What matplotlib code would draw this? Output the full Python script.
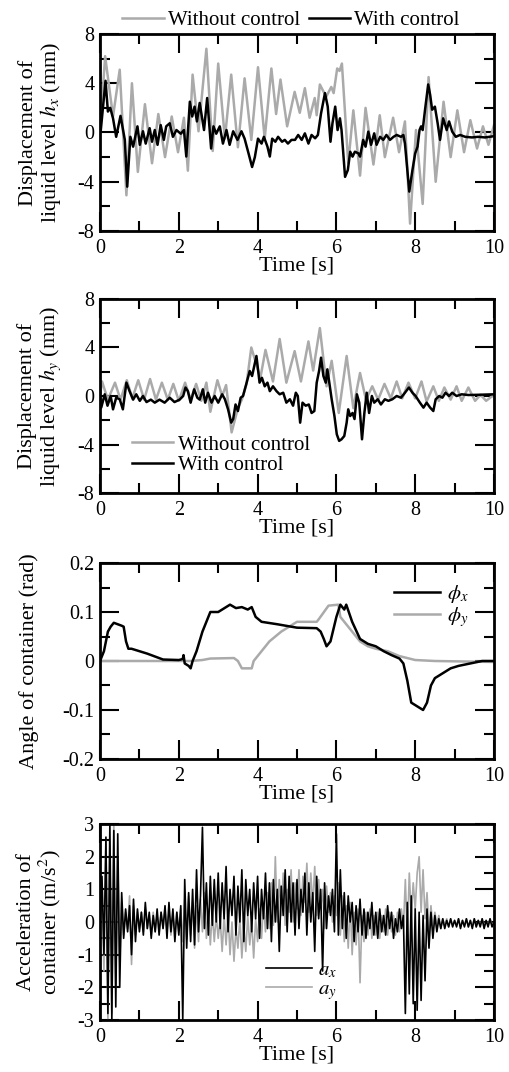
import numpy as np
import matplotlib
matplotlib.use("Agg")
import matplotlib.pyplot as plt
from matplotlib.ticker import MultipleLocator

plt.rcParams['font.family'] = ['Liberation Serif', 'DejaVu Serif']
plt.rcParams['mathtext.fontset'] = 'stix'
plt.rcParams['axes.unicode_minus'] = False
plt.rcParams['lines.solid_joinstyle'] = 'round'

GRAY = '#aaaaaa'

# ---- panel 1: h_x (mm) ----
hx_off_t = [0, 0.13, 0.33, 0.5, 0.67, 0.81, 0.96, 1.14, 1.32, 1.48, 1.65, 1.82, 1.98, 2.13, 2.23,
            2.35, 2.5, 2.7, 2.86, 3.0, 3.17, 3.33, 3.5, 3.67, 3.84, 4.01, 4.18, 4.35, 4.47, 4.58,
            4.75, 4.94, 5.07, 5.2, 5.32, 5.45, 5.5, 5.58, 5.74, 5.87, 5.93, 6.02, 6.08, 6.14, 6.3,
            6.43, 6.6, 6.74, 6.94, 7.1, 7.23, 7.44, 7.59, 7.74, 7.87, 8.02, 8.19, 8.34, 8.52, 8.72,
            8.9, 9.07, 9.24, 9.4, 9.57, 9.72, 9.86, 10.0]
hx_off_v = [0, 6.2, 1.3, 5.1, -5.1, 4.0, -3.2, 2.3, -2.5, 1.5, -2.0, 1.3, -1.6, 1.2, -3.1,
            4.7, 0.1, 6.8, -1.5, 5.6, -0.5, 4.7, -1.2, 4.4, -0.6, 5.3, -0.5, 5.2, 1.5, 4.3,
            0.5, 3.3, 1.6, 3.6, 1.2, 2.8, 1.4, 3.9, 2.9, 3.7, 3.2, 5.2, 5.0, 5.6, -2.5,
            1.8, -3.5, 2.0, -2.6, 1.4, -2.0, 1.2, -1.6, 0.9, -7.4, 0.2, -5.8, 4.5, -4.0, 2.5,
            -2.0, 1.8, -1.6, 1.0, -1.3, 0.5, -1.0, 0.6]

hx_on_t = [0, 0.02, 0.14, 0.2, 0.26, 0.33, 0.41, 0.52, 0.63, 0.69, 0.77, 0.84, 0.95, 1.01, 1.09,
           1.16, 1.26, 1.32, 1.39, 1.46, 1.54, 1.62, 1.68, 1.77, 1.85, 1.94, 2.05, 2.13, 2.19, 2.28,
           2.34, 2.4, 2.46, 2.53, 2.64, 2.72, 2.82, 2.88, 2.95, 3.04, 3.12, 3.21, 3.29, 3.38, 3.49,
           3.59, 3.67, 3.77, 3.86, 3.93, 4.01, 4.1, 4.16, 4.25, 4.31, 4.37, 4.45, 4.52, 4.62, 4.69,
           4.77, 4.86, 4.95, 5.03, 5.12, 5.2, 5.29, 5.37, 5.46, 5.53, 5.61, 5.71, 5.78, 5.85, 5.9,
           5.97, 6.03, 6.09, 6.13, 6.22, 6.29, 6.35, 6.41, 6.47, 6.56, 6.6, 6.68, 6.74, 6.81, 6.88,
           6.96, 7.02, 7.11, 7.19, 7.27, 7.36, 7.45, 7.53, 7.64, 7.7, 7.74, 7.85, 7.93, 8.0, 8.06,
           8.11, 8.15, 8.19, 8.25, 8.33, 8.38, 8.43, 8.5, 8.57, 8.63, 8.71, 8.8, 8.86, 8.94, 9.03,
           9.14, 9.27, 9.44, 9.6, 9.77, 10.0]
hx_on_v = [0, 0.2, 4.2, 1.7, 2.0, 1.15, -0.35, 1.35, -0.6, -4.4, -0.35, -1.15, 0.5, -1.0, 0.1,
           -0.9, 0.35, -0.75, 0.2, -1.0, 0.6, -0.6, 0.5, 0.75, -0.35, 0.2, -0.1, 0.2, -1.95, 2.5,
           1.3, 2.1, 0.9, 2.4, 0.2, 2.8, -1.3, 0.5, -0.1, 0.5, -0.9, 0.2, -1.0, 0.1, -0.6,
           0.1, -0.5, -1.7, -2.8, -2.0, -0.5, -0.9, -0.35, -1.15, -1.95, -0.5, -0.75, -0.35, -0.75, -0.6,
           -0.9, -0.6, -0.6, -0.2, -0.6, -0.07, -0.9, -0.2, -0.47, -0.2, 1.55, 3.2, 2.1, -0.75, 0.75,
           2.1, 0.2, 1.15, 0.2, -3.6, -3.05, -1.56, -1.96, -1.56, -1.7, -1.96, -0.6, -1.15, 0.07, -1.0,
           -0.07, -1.0, -0.35, -0.6, -0.2, -0.6, -0.35, -0.2, -0.35, -0.2, -0.9, -4.8, -3.05, -1.7, -1.15,
           0.2, 0.5, 0.2, 1.85, 3.9, 3.05, 1.85, 2.1, 0.75, -0.6, 1.15, 0.2, 0.9, 0.07, -0.35,
           -0.2, -0.35, -0.4, -0.35, -0.4, -0.3]

# ---- panel 2: h_y (mm) ----
hy_off_t = [0, 0.05, 0.2, 0.38, 0.52, 0.68, 0.82, 0.97, 1.12, 1.27, 1.42, 1.57, 1.72, 1.86, 2.0,
            2.16, 2.3, 2.44, 2.57, 2.7, 2.8, 2.98, 3.1, 3.2, 3.34, 3.5, 3.6, 3.72, 3.84, 4.07,
            4.2, 4.39, 4.56, 4.73, 4.94, 5.1, 5.29, 5.41, 5.58, 5.75, 5.88, 6.06, 6.26, 6.43, 6.6,
            6.75, 6.91, 7.06, 7.22, 7.38, 7.53, 7.67, 7.83, 8.0, 8.16, 8.29, 8.46, 8.6, 8.74, 8.9,
            9.05, 9.18, 9.35, 9.52, 9.66, 9.8, 10.0]
hy_off_v = [0, 1.2, -0.3, 1.1, -0.3, 1.3, -0.2, 1.3, -0.3, 1.4, -0.3, 1.1, -0.3, 1.0, -0.4,
            1.1, -0.3, 1.0, -0.4, 1.1, -1.3, 1.3, 0.0, 0.9, -3.0, -1.0, -0.3, 1.0, 4.0, 1.5,
            3.8, 1.2, 4.7, 1.1, 3.7, 1.2, 4.5, 2.1, 5.6, 0.8, 2.9, -1.4, 3.3, -1.0, 1.9,
            -0.3, 0.8, -0.3, 1.0, -0.2, 1.2, -0.2, 1.1, -0.2, 1.2, -0.45, 0.8, -0.4, 0.7, -0.3,
            0.8, -0.4, 0.7, -0.4, 0.1, -0.4, 0.1]

hy_on_t = [0, 0.03, 0.12, 0.19, 0.27, 0.33, 0.41, 0.5, 0.58, 0.67, 0.75, 0.84, 0.92, 1.01, 1.09,
           1.18, 1.29, 1.39, 1.51, 1.64, 1.77, 1.89, 2.02, 2.11, 2.17, 2.23, 2.3, 2.39, 2.47, 2.53,
           2.61, 2.67, 2.74, 2.83, 2.91, 3.0, 3.1, 3.17, 3.25, 3.33, 3.38, 3.44, 3.5, 3.57, 3.63,
           3.71, 3.8, 3.86, 3.97, 4.05, 4.11, 4.18, 4.25, 4.31, 4.39, 4.48, 4.56, 4.65, 4.73, 4.82,
           4.9, 4.97, 5.02, 5.08, 5.14, 5.22, 5.3, 5.37, 5.44, 5.5, 5.56, 5.61, 5.67, 5.73, 5.77,
           5.82, 5.88, 5.95, 6.01, 6.07, 6.13, 6.2, 6.26, 6.3, 6.35, 6.41, 6.46, 6.52, 6.58, 6.65,
           6.71, 6.77, 6.83, 6.9, 6.96, 7.05, 7.13, 7.23, 7.32, 7.42, 7.53, 7.64, 7.74, 7.84, 7.93,
           8.01, 8.12, 8.21, 8.29, 8.38, 8.46, 8.52, 8.61, 8.69, 8.77, 8.86, 8.94, 9.05, 9.18, 9.35,
           9.6, 10.0]
hy_on_v = [0, -0.96, 0.14, -0.8, 0, -1.1, -0.14, -0.27, -1.1, 1.1, 0.4, -0.3, 0.14, -0.4, 0,
           -0.5, -0.3, -0.55, -0.3, -0.55, -0.14, -0.5, -0.3, 0, 0.7, 0.4, -0.55, 0.55, -0.14, -0.3,
           0.55, -0.55, 0.27, -0.55, 0, -0.55, 0.14, -0.27, -1.1, -2.2, -1.9, -0.7, -1.24, -0.14, 0,
           0.96, 2.06, 1.65, 3.3, 1.1, 1.5, 0.8, 1.1, 0.4, 0.8, 0.4, 0.14, 0.27, -0.55, -0.27,
           -0.8, 0.27, 0, -2.2, -0.55, -0.8, -0.7, -1.4, -1.24, 1.1, 2.06, 3.16, 1.65, 1.1, 2.2,
           1.1, -0.27, -1.65, -3.16, -3.7, -3.57, -3.3, -2.2, -1.1, -1.65, -1.4, -1.9, 0.14, -0.55, -3.57,
           -1.4, 0.27, -1.4, 0, -0.55, -0.27, -0.7, -0.27, -0.4, -0.27, 0, -0.14, 0.27, 0.7, 0.27,
           0, -0.55, -0.96, -0.55, -0.96, -1.24, -0.27, 0, -0.14, 0.27, 0, 0.27, 0, 0.14, 0.08,
           0.1, 0.14]

# ---- panel 3: container angle (rad) ----
phix_t = [0, 0.1, 0.2, 0.27, 0.35, 0.45, 0.55, 0.6, 0.66, 0.72, 0.8, 1.0, 1.2, 1.4, 1.6,
          2.0, 2.1, 2.12, 2.15, 2.25, 2.3, 2.35, 2.45, 2.6, 2.8, 3.0, 3.2, 3.3, 3.45, 3.6,
          3.75, 3.85, 3.95, 4.1, 4.5, 5.0, 5.5, 5.6, 5.68, 5.75, 5.85, 6.0, 6.1, 6.2, 6.25,
          6.4, 6.6, 6.8, 7.0, 7.2, 7.4, 7.6, 7.7, 7.8, 7.9, 8.1, 8.2, 8.3, 8.4, 8.5,
          8.7, 8.9, 9.1, 9.4, 9.7, 10.0]
phix_v = [0, 0.02, 0.06, 0.07, 0.078, 0.075, 0.072, 0.07, 0.04, 0.025, 0.025, 0.02, 0.015, 0.009, 0.003,
          0.002, 0.004, 0.012, -0.005, -0.01, -0.015, 0.0, 0.02, 0.06, 0.1, 0.1, 0.11, 0.115, 0.108, 0.11,
          0.105, 0.11, 0.09, 0.08, 0.075, 0.068, 0.067, 0.06, 0.045, 0.03, 0.04, 0.09, 0.115, 0.105, 0.115,
          0.08, 0.045, 0.035, 0.03, 0.02, 0.012, 0.005, -0.005, -0.04, -0.085, -0.095, -0.1, -0.085, -0.05, -0.035,
          -0.025, -0.015, -0.01, -0.005, 0.0, 0.0]

phiy_t = [0, 2.3, 2.6, 2.8, 3.4, 3.5, 3.6, 3.85, 3.9, 4.0, 4.3, 4.6, 5.0, 5.5, 5.55,
          5.8, 6.05, 6.1, 6.3, 6.6, 6.8, 7.0, 7.3, 7.6, 8.0, 8.5, 10.0]
phiy_v = [0, 0, 0.002, 0.005, 0.006, 0.0, -0.015, -0.015, 0.0, 0.01, 0.04, 0.06, 0.08, 0.08, 0.085,
          0.113, 0.115, 0.09, 0.07, 0.04, 0.03, 0.025, 0.02, 0.01, 0.002, 0.0, -0.002]

# ---- panel 4: container acceleration (m/s^2), sampled every 0.05 s ----
acc_t = np.arange(201) * 0.05
ax_vals = [
    0.0, 1.4, -1.0, 2.6, -2.8, 3.0, -3.0, 2.8, -2.6, 2.7, -2.0, 0.9, -0.5, 0.4, -0.3, 0.5, -1.0, 0.7, -0.6, 0.4,
    -0.3, 0.3, -0.4, 0.6, -0.2, 0.3, -0.5, 0.2, -0.3, 0.4, -0.4, 0.3, -0.2, 0.5, -0.5, 0.6, -0.3, 0.4, -0.6, 0.3,
    -0.4, 0.5, -3.0, 1.3, -0.8, 0.9, -0.6, 1.0, -0.7, 1.6, -0.3, 0.8, 2.9, -0.2, 1.2, -0.4, 1.4, -0.1, 1.3, 0.0,
    1.5, -0.2, 1.2, 0.1, 1.7, -0.3, 1.0, 0.2, 1.4, -0.4, 1.1, 0.0, 1.6, -0.6, 1.3, 0.2, 1.0, -0.3, 1.2, 0.1,
    1.4, -0.5, 1.0, 0.1, 1.5, -0.2, 1.2, -0.6, 1.3, 0.0, 1.0, -0.9, 1.1, 0.2, 1.6, -0.3, 1.4, 0.0, 1.2, -0.4,
    1.3, -0.2, 1.0, 0.3, 1.5, -0.4, 1.2, 0.0, 0.9, -0.9, 1.4, 0.1, 1.0, -1.5, 1.2, -0.2, 0.8, 0.2, 1.0, -0.3,
    2.7, -0.4, 1.6, -0.2, 0.9, -0.5, 0.8, 0.0, 0.6, -0.6, 0.5, -0.3, 0.7, -0.4, 0.4, -0.5, 0.3, -0.2, 0.6, -0.4,
    0.3, -0.5, 0.4, -0.3, 0.2, -0.4, 0.5, -0.2, 0.3, -0.5, 0.1, -0.3, 0.4, -0.2, 0.2, -2.8, 0.6, -2.2, 0.8, -2.5,
    0.4, -2.7, 0.3, -2.4, 0.2, -1.8, 0.4, -0.8, 0.3, -0.5, 0.2, -0.3, 0.1, -0.2, 0.1, -0.2, 0.05, -0.15, 0.1, -0.15,
    0.05, -0.15, 0.1, -0.2, 0.05, -0.15, 0.1, -0.15, 0.05, -0.2, 0.1, -0.15, 0.05, -0.15, 0.1, -0.2, 0.05, -0.15, 0.1, -0.15,
    0.0]
ay_vals = [
    0.0, 1.0, -1.5, 2.5, -3.0, 2.2, -2.8, 3.0, -2.0, 2.0, -1.2, 0.6, -0.4, 0.3, -0.2, 0.8, -1.3, 0.5, -0.4, 0.3,
    -0.2, 0.3, -0.3, 0.4, -0.2, 0.2, -0.4, 0.3, -0.3, 0.2, -0.3, 0.3, -0.2, 0.4, -0.3, 0.3, -0.4, 0.2, -0.2, 0.3,
    -0.3, 0.4, -0.6, 0.7, -0.5, 0.8, -0.4, 0.6, -0.8, 0.5, -0.6, 0.7, -0.3, 0.9, -0.5, 0.4, -0.7, 0.3, -0.6, 0.2,
    -0.5, 0.1, -0.9, 0.2, -0.7, 0.3, -1.0, 0.0, -1.2, -0.2, -0.8, 0.1, -1.1, -0.1, -0.9, 0.2, -0.7, 0.0, -1.1, 0.1,
    -0.6, 0.4, -0.5, 0.6, -0.3, 0.9, -0.2, 1.2, -0.1, 2.0, 0.0, 1.3, 0.2, 1.5, -0.1, 1.0, 0.3, 1.6, 0.0, 1.2,
    0.4, 1.6, 0.2, 1.4, 0.6, 1.8, 0.3, 1.5, 0.5, 1.7, 0.2, 1.3, 0.4, 1.0, -0.2, 1.1, 0.3, 0.9, 0.0, 0.8,
    0.2, 1.2, -0.4, 0.8, -0.6, 0.5, -0.8, 0.6, -1.0, 0.3, -0.7, 0.4, -1.86, 0.2, -0.6, 0.3, -0.4, 0.4, -0.5, 0.2,
    -0.4, 0.3, -0.5, 0.2, -0.3, 0.4, -0.4, 0.3, -0.3, 0.2, -0.4, 0.3, -0.3, 0.4, -0.2, 1.3, -0.5, 1.5, 0.2, 1.2,
    0.4, 1.5, 2.0, 0.3, 1.6, 0.1, 0.9, -0.3, 0.5, -0.2, 0.3, -0.1, 0.2, -0.2, 0.1, -0.1, 0.1, -0.15, 0.1, -0.1,
    0.05, -0.1, 0.1, -0.15, 0.05, -0.1, 0.1, -0.15, 0.05, -0.1, 0.1, -0.15, 0.05, -0.1, 0.1, -0.15, 0.05, -0.1, 0.1, -0.1,
    0.0]

TICK_FS = 14.5
LABEL_FS = 16
LEG_FS = 15


def style_axes(ax, ymin, ymax, ymajor, yminor, ylabel, label_x=-0.095):
    ax.set_xlim(0, 10)
    ax.set_ylim(ymin, ymax)
    ax.xaxis.set_major_locator(MultipleLocator(2))
    ax.xaxis.set_minor_locator(MultipleLocator(1))
    ax.yaxis.set_major_locator(MultipleLocator(ymajor))
    ax.yaxis.set_minor_locator(MultipleLocator(yminor))
    ax.tick_params(which='both', direction='in', top=True, right=True, width=1.5,
                   labelsize=TICK_FS)
    ax.tick_params(which='major', length=13.5)
    ax.tick_params(which='minor', length=7)
    ax.tick_params(axis='x', which='both', pad=6)
    ax.tick_params(axis='y', which='both', pad=4)
    for sp in ax.spines.values():
        sp.set_linewidth(2)
    ax.set_xlabel('Time [s]', fontsize=LABEL_FS, labelpad=-1)
    ax.set_ylabel(ylabel, fontsize=LABEL_FS, linespacing=1.0)
    ax.yaxis.set_label_coords(label_x, 0.5)


fig = plt.figure(figsize=(5.09, 10.72), dpi=100)
left, width = 0.1965, 0.774
ax1 = fig.add_axes([left, 0.7845, width, 0.1838])
ax2 = fig.add_axes([left, 0.5401, width, 0.181])
ax3 = fig.add_axes([left, 0.292, width, 0.1828])
ax4 = fig.add_axes([left, 0.0485, width, 0.1828])

# panel 1
ax1.plot(hx_off_t, hx_off_v, color=GRAY, lw=1.8, label='Without control')
ax1.plot(hx_on_t, hx_on_v, color='black', lw=1.8, label='With control')
style_axes(ax1, -8, 8, 4, 2, 'Displacement of\nliquid level $h_x$ (mm)')
ax1.legend(loc='lower center', bbox_to_anchor=(0.485, 1.0), ncol=2, frameon=False,
           fontsize=LEG_FS, handlelength=2.0, handletextpad=0.2, columnspacing=0.4,
           borderpad=0.1, borderaxespad=0.1)

# panel 2
ax2.plot(hy_off_t, hy_off_v, color=GRAY, lw=1.8, label='Without control')
ax2.plot(hy_on_t, hy_on_v, color='black', lw=1.8, label='With control')
style_axes(ax2, -8, 8, 4, 2, 'Displacement of\nliquid level $h_y$ (mm)')
ax2.legend(loc='lower left', bbox_to_anchor=(0.07, 0.07), frameon=False,
           fontsize=LEG_FS, handlelength=2.0, handletextpad=0.2, labelspacing=0.05,
           borderpad=0.1, borderaxespad=0.1)

# panel 3
l_py, = ax3.plot(phiy_t, phiy_v, color=GRAY, lw=1.8)
l_px, = ax3.plot(phix_t, phix_v, color='black', lw=1.8)
style_axes(ax3, -0.2, 0.2, 0.1, 0.05, 'Angle of container (rad)', label_x=-0.155)
ax3.set_yticks([-0.2, -0.1, 0, 0.1, 0.2])
ax3.set_yticklabels(['-0.2', '-0.1', '0', '0.1', '0.2'])
ax3.legend([l_px, l_py], [r'$\phi_x$', r'$\phi_y$'], loc='upper right',
           bbox_to_anchor=(0.945, 0.92), frameon=False, fontsize=LEG_FS,
           handlelength=2.2, handletextpad=0.3, labelspacing=0.0,
           borderpad=0.1, borderaxespad=0.1)

# panel 4
l_ay, = ax4.plot(acc_t, ay_vals, color=GRAY, lw=1.2)
l_ax, = ax4.plot(acc_t, ax_vals, color='black', lw=1.2)
style_axes(ax4, -3, 3, 1, 0.5, 'Acceleration of\ncontainer (m/s$^2$)')
ax4.legend([l_ax, l_ay], [r'$a_x$', r'$a_y$'], loc='lower left',
           bbox_to_anchor=(0.41, 0.07), frameon=False, fontsize=LEG_FS,
           handlelength=2.2, handletextpad=0.3, labelspacing=0.0,
           borderpad=0.1, borderaxespad=0.1)

fig.savefig('out.png', dpi=100)
